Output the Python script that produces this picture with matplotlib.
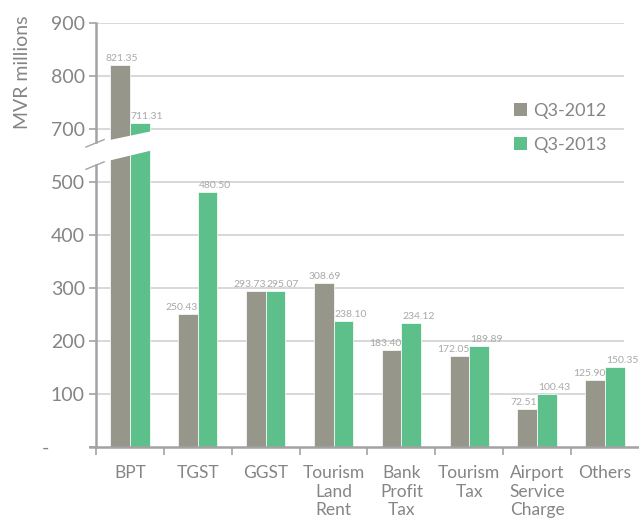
import numpy as np
import matplotlib
matplotlib.use("Agg")
import matplotlib.pyplot as plt
from matplotlib.patches import Polygon, Patch

plt.rcParams['font.family'] = ['Lato', 'DejaVu Sans']

# data
categories = ["BPT", "TGST", "GGST", "Tourism\nLand\nRent", "Bank\nProfit\nTax",
              "Tourism\nTax", "Airport\nService\nCharge", "Others"]
q3_2012 = [821.35, 250.43, 293.73, 308.69, 183.40, 172.05, 72.51, 125.90]
q3_2013 = [711.31, 480.50, 295.07, 238.10, 234.12, 189.89, 100.43, 150.35]
series_names = ["Q3-2012", "Q3-2013"]
ytick_vals = [0, 100, 200, 300, 400, 500, 700, 800, 900]
ytick_labels = ["-", "100", "200", "300", "400", "500", "700", "800", "900"]

GREY = "#96968a"
GREEN = "#5dc08b"
TXT = "#858585"
LBL = "#a8a8a8"
AX = "#a3a3a3"
GRID = "#d6d6d6"

# broken axis: everything above 600 is shifted down by 100
GAP = 100
def disp(v):
    return v - GAP if v > 600 else v

fig = plt.figure(figsize=(6.39, 5.21), dpi=100)
ax = fig.add_axes([0.1502, 0.142, 0.8498, 0.8139])

x = np.arange(len(categories)) + 0.5
w = 0.29
g12 = [disp(v) for v in q3_2012]
g13 = [disp(v) for v in q3_2013]

ax.bar(x - w / 2, g12, w, color=GREY, edgecolor="white", linewidth=0.5, zorder=3)
ax.bar(x + w / 2, g13, w, color=GREEN, edgecolor="white", linewidth=0.5, zorder=3)

# value labels: grey ones sit to the left, green ones to the right
for xi, a, b, d in zip(x, q3_2012, q3_2013, g12):
    if a > b + 50:
        ax.annotate(f"{a:.2f}", (xi - w / 2, d), xytext=(1, 1.5), textcoords="offset points",
                    ha="center", va="bottom", fontsize=7.5, color=LBL, zorder=4)
    else:
        ax.annotate(f"{a:.2f}", (xi, d), xytext=(0, 1.5), textcoords="offset points",
                    ha="right", va="bottom", fontsize=7.5, color=LBL, zorder=4)
for xi, b, d in zip(x, q3_2013, g13):
    ax.annotate(f"{b:.2f}", (xi, d), xytext=(0.5, 1.5), textcoords="offset points",
                ha="left", va="bottom", fontsize=7.5, color=LBL, zorder=4)

ax.set_xlim(0, len(categories))
ax.set_ylim(0, 800)

# gridlines
ytick_pos = [disp(v) for v in ytick_vals]
ax.hlines(ytick_pos[1:], 0, 7.78, color=GRID, linewidth=1.3, zorder=1)

# break band across the BPT bars
band = Polygon([[0.12, 538], [0.9, 562], [0.9, 598], [0.12, 577]],
               closed=True, facecolor="white", edgecolor="none", zorder=5)
ax.add_patch(band)

# axes lines
for s in ax.spines.values():
    s.set_visible(False)
ax.plot([0, 0], [0, 533], color=AX, linewidth=1.8, clip_on=False, zorder=6)
ax.plot([0, 0], [576, 800], color=AX, linewidth=1.8, clip_on=False, zorder=6)
ax.plot([-0.147, 0.12], [524, 538], color=AX, linewidth=1.0, clip_on=False, zorder=6)
ax.plot([-0.147, 0.12], [566, 580], color=AX, linewidth=1.0, clip_on=False, zorder=6)
ax.plot([-0.09, len(categories)], [0, 0], color=AX, linewidth=1.8, clip_on=False, zorder=6)

ax.set_yticks(ytick_pos)
ax.set_yticklabels(ytick_labels)
ax.tick_params(axis="y", length=5, width=1.2, color=AX, labelsize=14, labelcolor=TXT, pad=3)
ax.get_yticklabels()[0].set_x(-0.065)

ax.set_xticks(np.arange(len(categories)))
ax.set_xticks(x, minor=True)
ax.set_xticklabels([])
ax.set_xticklabels(categories, minor=True)
ax.tick_params(axis="x", which="major", length=6, width=1.2, color=AX, direction="out")
ax.tick_params(axis="x", which="minor", length=0, labelsize=12.5, labelcolor=TXT, pad=13)
for t in ax.get_xticklabels(minor=True):
    t.set_linespacing(1.2)

ax.set_ylabel("MVR millions", fontsize=14, color=TXT)
ax.yaxis.set_label_coords(-0.12, 0.884)

handles = [Patch(facecolor=GREY), Patch(facecolor=GREEN)]
ax.legend(handles, series_names, loc="upper left", bbox_to_anchor=(0.74, 0.85),
          frameon=False, handlelength=0.7, handleheight=0.7, handletextpad=0.35,
          labelspacing=1.0, fontsize=13, labelcolor=TXT)

fig.savefig("out.png", dpi=100)
